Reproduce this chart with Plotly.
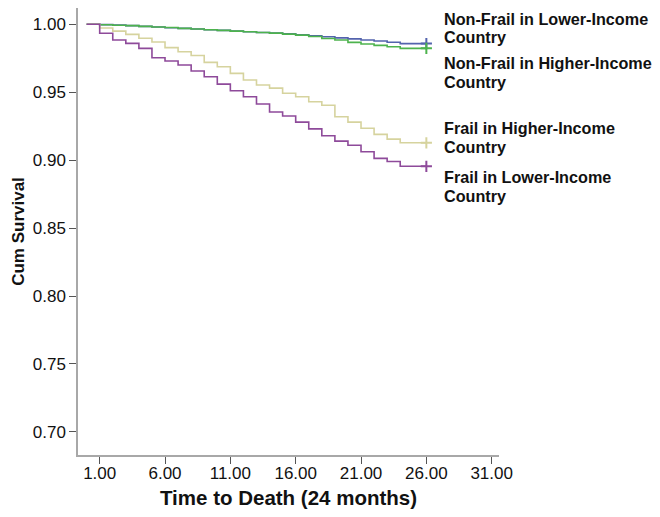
import plotly.graph_objects as go

# ---- data ----
months = list(range(0, 25))
end_time = 26

nonfrail_lower = [1.0, 0.9998, 0.9995, 0.9990, 0.9985, 0.9980, 0.9975, 0.9970, 0.9965, 0.9960,
                  0.9955, 0.9950, 0.9945, 0.9940, 0.9935, 0.9930, 0.9922, 0.9915, 0.9908, 0.9900,
                  0.9893, 0.9885, 0.9877, 0.9868, 0.9858]
nonfrail_higher = [1.0, 0.9997, 0.9993, 0.9990, 0.9985, 0.9980, 0.9976, 0.9970, 0.9965, 0.9960,
                   0.9955, 0.9950, 0.9945, 0.9940, 0.9935, 0.9928, 0.9920, 0.9910, 0.9895, 0.9885,
                   0.9867, 0.9855, 0.9845, 0.9835, 0.9823]
frail_higher = [1.0, 0.9973, 0.9950, 0.9926, 0.9897, 0.9870, 0.9828, 0.9798, 0.9770, 0.9720,
                0.9688, 0.9639, 0.9590, 0.9553, 0.9530, 0.9492, 0.9467, 0.9430, 0.9404, 0.9320,
                0.9280, 0.9235, 0.9190, 0.9155, 0.9128]
frail_lower = [1.0, 0.9934, 0.9884, 0.9860, 0.9823, 0.9754, 0.9730, 0.9700, 0.9656, 0.9614,
               0.9560, 0.9511, 0.9467, 0.9413, 0.9355, 0.9325, 0.9280, 0.9230, 0.9180, 0.9140,
               0.9110, 0.9062, 0.9013, 0.8990, 0.8955]

series_names = ["Non-Frail in Lower-Income Country", "Non-Frail in Higher-Income Country",
                "Frail in Higher-Income Country", "Frail in Lower-Income Country"]
series_values = [nonfrail_lower, nonfrail_higher, frail_higher, frail_lower]
colors = ["#5363ad", "#4db34d", "#d6d39e", "#8e4a9a"]

x_ticks = [1, 6, 11, 16, 21, 26, 31]
x_tick_labels = ["1.00", "6.00", "11.00", "16.00", "21.00", "26.00", "31.00"]
y_ticks = [0.70, 0.75, 0.80, 0.85, 0.90, 0.95, 1.00]
y_tick_labels = ["0.70", "0.75", "0.80", "0.85", "0.90", "0.95", "1.00"]

label_lines = ["Non-Frail in Lower-Income", "Country",
               "Non-Frail in Higher-Income", "Country",
               "Frail in Higher-Income", "Country",
               "Frail in Lower-Income", "Country"]
# vertical centres of each label line (page pixels from top)
label_line_px = [19, 37, 63, 82, 128, 147, 177, 196]

W, H = 644, 501
L, R, T, B = 70, 153, 0, 54
OFF = 8  # page offset of the figure
plot_h = H - T - B

fig = go.Figure()
for name, vals, col in zip(series_names, series_values, colors):
    xs = months + [end_time]
    ys = vals + [vals[-1]]
    fig.add_trace(go.Scatter(x=xs, y=ys, mode="lines", line=dict(color=col, width=1.6, shape="hv"),
                             name=name, showlegend=False, hoverinfo="skip"))
    fig.add_trace(go.Scatter(x=[end_time], y=[vals[-1]], mode="markers",
                             marker=dict(symbol="cross-thin", size=8, line=dict(color=col, width=2)),
                             showlegend=False, hoverinfo="skip"))

for txt, py in zip(label_lines, label_line_px):
    fig.add_annotation(text="<b>" + txt + "</b>", xref="paper", yref="paper", x=0.8646,
                       y=(plot_h - (py - OFF - T)) / plot_h,
                       xanchor="left", yanchor="middle", align="left", showarrow=False,
                       font=dict(family="Liberation Sans, Arial, sans-serif", size=16.2, color="#111"))

fig.update_layout(
    width=W, height=H,
    margin=dict(l=L, r=R, t=T, b=B, autoexpand=False),
    plot_bgcolor="white", paper_bgcolor="white",
    font=dict(family="Liberation Sans, Arial, sans-serif", size=17, color="#111"),
    xaxis=dict(range=[-0.66, 31.56], tickmode="array", tickvals=x_ticks, ticktext=x_tick_labels,
               showgrid=False, zeroline=False, showline=True, linecolor="#a8a8a8", linewidth=1.5,
               ticks="outside", ticklen=7, tickcolor="#555", tickwidth=1.2, ticklabelstandoff=-5,
               title=dict(text="<b>Time to Death (24 months)</b>", standoff=8,
                          font=dict(family="Liberation Sans, Arial, sans-serif", size=20.5))),
    yaxis=dict(range=[0.683, 1.012], tickmode="array", tickvals=y_ticks, ticktext=y_tick_labels,
               showgrid=False, zeroline=False, showline=True, linecolor="#a8a8a8", linewidth=1.5,
               ticks="outside", ticklen=7, tickcolor="#555", tickwidth=1.2,
               title=dict(text="<b>Cum Survival</b>", standoff=4,
                          font=dict(family="Liberation Sans, Arial, sans-serif", size=17))),
)

fig.write_html("out.html")
